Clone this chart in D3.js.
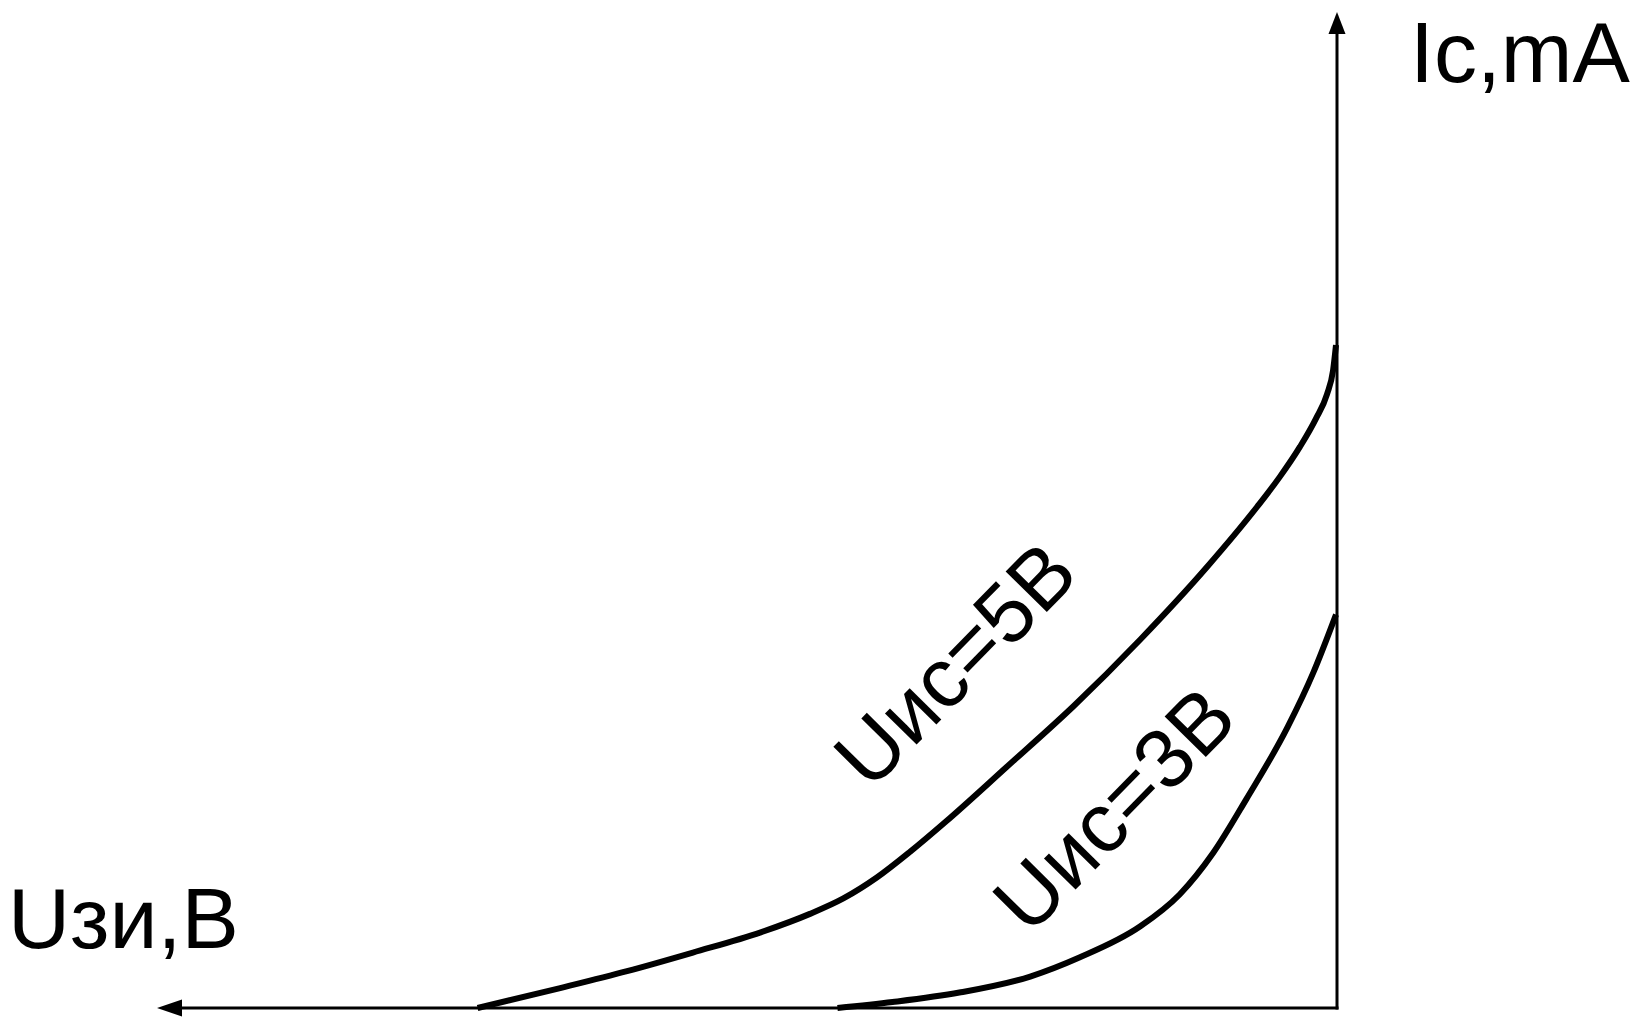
<!DOCTYPE html>
<html>
<head>
<meta charset="utf-8">
<script src="https://cdn.jsdelivr.net/npm/d3@7"></script>
<style>
  html, body { margin: 0; padding: 0; background: #fff; }
  text { font-family: "Liberation Sans", Arial, sans-serif; fill: #000; }
</style>
</head>
<body>
<div id="container"></div>
<script>
// transfer characteristic, Uзи (V) vs Ic (mA)
var uzi5 = [4.37, 3.95, 3.61, 3.275, 2.93, 2.68, 2.51, 2.34, 2.17, 1.99, 1.68, 1.34, 1.00, 0.66, 0.407, 0.29, 0.188, 0.107, 0.051, 0.020, 0.005];
var ic5  = [0, 0.20, 0.37, 0.557, 0.76, 0.945, 1.10, 1.31, 1.57, 1.87, 2.42, 3.03, 3.70, 4.43, 5.03, 5.335, 5.636, 5.918, 6.161, 6.402, 6.657];

var uzi3 = [2.54, 2.26, 1.92, 1.56, 1.31, 1.00, 0.80, 0.63, 0.46, 0.25, 0.12, 0.005];
var ic3  = [0, 0.06, 0.155, 0.316, 0.507, 0.82, 1.14, 1.556, 2.10, 2.825, 3.37, 3.95];

var curveLabels = ["Uис=5В", "Uис=3В"];
var xTitle = "Uзи,В";
var yTitle = "Ic,mA";

width = 1637;
height = 1018;

var svg = d3.select("#container").append("svg")
    .attr("width", width)
    .attr("height", height);

// Uзи grows to the left
var x = d3.scaleLinear().domain([0, 6]).range([1337, 157]);
var y = d3.scaleLinear().domain([0, 10]).range([1008, 12]);

// axes
svg.append("line")
    .attr("x1", x(0)).attr("y1", y(0) + 1.5)
    .attr("x2", x(0)).attr("y2", y(10) + 18)
    .style("stroke", "#000").style("stroke-width", 3);
svg.append("line")
    .attr("x1", x(0) + 1.5).attr("y1", y(0))
    .attr("x2", x(6) + 20).attr("y2", y(0))
    .style("stroke", "#000").style("stroke-width", 3);

// arrow heads
svg.append("path")
    .attr("d", "M" + x(0) + "," + y(10) + "l-8.5,22l17,0z")
    .style("fill", "#000");
svg.append("path")
    .attr("d", "M" + x(6) + "," + y(0) + "l25,-8.5l0,17z")
    .style("fill", "#000");

var line = d3.line()
    .x(function(d) { return x(d[0]); })
    .y(function(d) { return y(d[1]); })
    .curve(d3.curveMonotoneX);

var curves = [d3.zip(uzi5, ic5), d3.zip(uzi3, ic3)];

svg.selectAll("path.curve")
    .data(curves)
    .enter().append("path")
    .attr("class", "curve")
    .attr("d", function(d) { return line(d); })
    .style("fill", "none")
    .style("stroke", "#000")
    .style("stroke-width", 6);

// axis titles
svg.append("text")
    .attr("x", 1410).attr("y", 82)
    .style("font-size", "86px")
    .text(yTitle);
svg.append("text")
    .attr("x", 8).attr("y", 948)
    .style("font-size", "86px")
    .text(xTitle);

// curve labels, along the curves
var labelPos = [[870, 792], [1029, 937]];
svg.selectAll("text.lbl")
    .data(curveLabels)
    .enter().append("text")
    .attr("class", "lbl")
    .attr("transform", function(d, i) {
        return "translate(" + labelPos[i][0] + "," + labelPos[i][1] + ") rotate(-45.5)";
    })
    .style("font-size", "84px")
    .text(function(d) { return d; });
</script>
</body>
</html>
